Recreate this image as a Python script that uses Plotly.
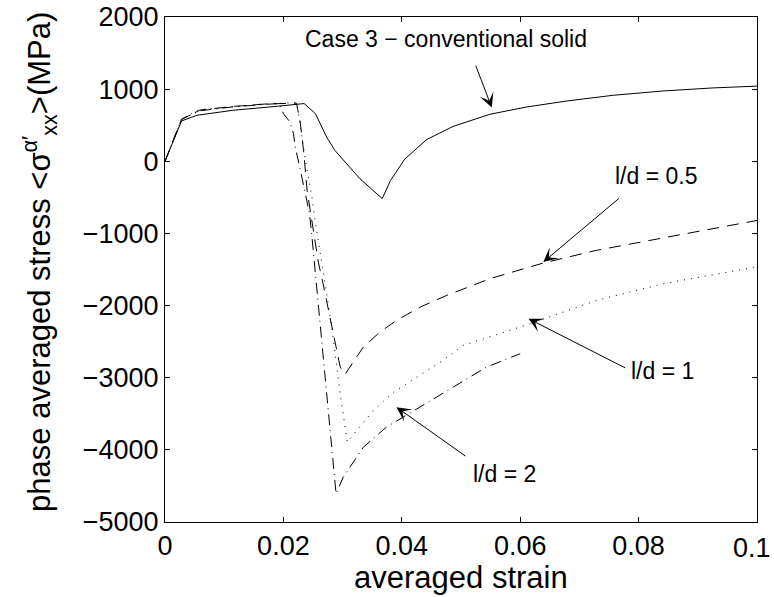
import plotly.graph_objects as go

# ---- data ----
solid_x = [0, 0.0028, 0.0054, 0.0115, 0.019, 0.0235, 0.0254, 0.0273, 0.0287, 0.0313, 0.0329,
           0.0367, 0.0381, 0.0405, 0.0442, 0.0487, 0.0549, 0.0611, 0.0679, 0.0757, 0.0842, 0.0926, 0.1]
solid_y = [0, 560, 638, 707, 763, 800, 661, 337, 150, -101, -240,
           -517, -264, 30, 301, 485, 652, 753, 836, 915, 975, 1017, 1042]

ld05_x = [0, 0.0028, 0.0059, 0.0115, 0.0172, 0.0222, 0.0228, 0.0234, 0.0240, 0.0259, 0.0267,
          0.0280, 0.0287, 0.0296, 0.0304, 0.0316, 0.0335, 0.0363, 0.0391, 0.0431, 0.0476,
          0.0549, 0.0639, 0.0729, 0.0819, 0.0898, 0.1]
ld05_y = [0, 580, 710, 760, 795, 805, 569, 153, -402, -1397, -1696,
          -2205, -2529, -2853, -2954, -2807, -2575, -2368, -2205, -2021, -1859,
          -1627, -1410, -1234, -1096, -980, -820]

ld1_x = [0, 0.0028, 0.0059, 0.0115, 0.0172, 0.0222, 0.0225, 0.02326, 0.02394, 0.02478, 0.02534,
         0.027, 0.02816, 0.02968, 0.0308, 0.0324, 0.0352, 0.0386, 0.0465, 0.0504, 0.0617,
         0.0729, 0.0842, 0.0983, 0.1]
ld1_y = [0, 590, 717, 763, 800, 812, 684, 268, -101, -472, -818,
         -1674, -2298, -3269, -3893, -3731, -3454, -3200, -2784, -2552, -2251,
         -1928, -1697, -1488, -1460]

ld2_x = [0, 0.0028, 0.0059, 0.0115, 0.0172, 0.0193, 0.0200, 0.0211, 0.0217, 0.0220, 0.0228,
         0.0237, 0.0244, 0.0248, 0.0289, 0.0301, 0.0335, 0.0374, 0.0425, 0.0487, 0.0543, 0.0600]
ld2_y = [0, 585, 700, 755, 790, 800, 661, 545, 384, 198, -97,
         -426, -721, -1026, -4610, -4379, -3963, -3685, -3430, -3130, -2853, -2667]

x_ticks = [0, 0.02, 0.04, 0.06, 0.08, 0.1]
x_ticktext = ["0", "0.02", "0.04", "0.06", "0.08", ""]
x_last_label = "0.1"   # drawn as right-aligned text so it stays inside the page
y_ticks = [-5000, -4000, -3000, -2000, -1000, 0, 1000, 2000]
y_ticktext = ["\u22125000", "\u22124000", "\u22123000", "\u22122000", "\u22121000", "0", "1000", "2000"]

FONT = "Liberation Sans, Arial, Helvetica, sans-serif"

fig = go.Figure()
fig.add_trace(go.Scatter(x=solid_x, y=solid_y, mode="lines",
                         line=dict(color="black", width=1)))
fig.add_trace(go.Scatter(x=ld05_x, y=ld05_y, mode="lines",
                         line=dict(color="black", width=1, dash="12px,8px")))
fig.add_trace(go.Scatter(x=ld1_x, y=ld1_y, mode="lines",
                         line=dict(color="black", width=1, dash="1px,6px")))
fig.add_trace(go.Scatter(x=ld2_x, y=ld2_y, mode="lines",
                         line=dict(color="black", width=1, dash="11px,5px,1px,5px")))

# arrows (tip at x,y ; tail at ax,ay)
arrows = [
    (0.0552, 745, 0.0524, 1345),
    (0.0639, -1397, 0.0769, -499),
    (0.0614, -2182, 0.0780, -2875),
    (0.0391, -3408, 0.0510, -4101),
]
for (x, y, ax, ay) in arrows:
    fig.add_annotation(x=x, y=y, ax=ax, ay=ay, xref="x", yref="y", axref="x", ayref="y",
                       text="", showarrow=True, arrowhead=3, arrowsize=2.4, arrowwidth=1,
                       arrowcolor="black", standoff=0, startstandoff=0)

labels = [
    ("Case 3 \u2212 conventional solid", 0.0475, 1700),
    ("l/d = 0.5", 0.0829, -208),
    ("l/d = 1", 0.0841, -2913),
    ("l/d = 2", 0.0574, -4341),
]
for (t, x, y) in labels:
    fig.add_annotation(x=x, y=y, xref="x", yref="y", text=t, showarrow=False,
                       font=dict(family=FONT, size=23, color="black"),
                       xanchor="center", yanchor="middle")

# last x tick label, kept inside the page like the reference
fig.add_annotation(x=1, y=0, xref="paper", yref="paper", xanchor="right", yanchor="middle",
                   xshift=16, yshift=-26, text=x_last_label, showarrow=False,
                   font=dict(family=FONT, size=27, color="black"))

# axis titles
fig.add_annotation(x=0.5, y=0, xref="paper", yref="paper", xanchor="center", yanchor="top",
                   yshift=-36, text="averaged strain", showarrow=False,
                   font=dict(family=FONT, size=31, color="black"))
fig.add_annotation(x=0, y=0.515, xref="paper", yref="paper", xanchor="center", yanchor="middle",
                   xshift=-125, textangle=-90, showarrow=False,
                   text="phase averaged stress <\u03c3<sup>\u03b1\u2032</sup><sub>xx</sub>>(MPa)",
                   font=dict(family=FONT, size=31, color="black"))

axis_common = dict(showgrid=False, zeroline=False, showline=True, linecolor="black",
                   linewidth=1, mirror="ticks", ticks="inside", ticklen=5, tickcolor="black",
                   tickwidth=1, automargin=False, ticklabeloverflow="allow",
                   tickfont=dict(family=FONT, size=27, color="black"))
fig.update_xaxes(range=[0, 0.1000001], tickvals=x_ticks, ticktext=x_ticktext, **axis_common)
fig.update_yaxes(range=[-5000, 2000], tickvals=y_ticks, ticktext=y_ticktext, **axis_common)

fig.update_layout(width=774, height=597, margin=dict(l=165, r=17, t=17, b=75, autoexpand=False),
                  paper_bgcolor="white", plot_bgcolor="white", showlegend=False,
                  font=dict(family=FONT, color="black"))

fig.write_html("out.html")
